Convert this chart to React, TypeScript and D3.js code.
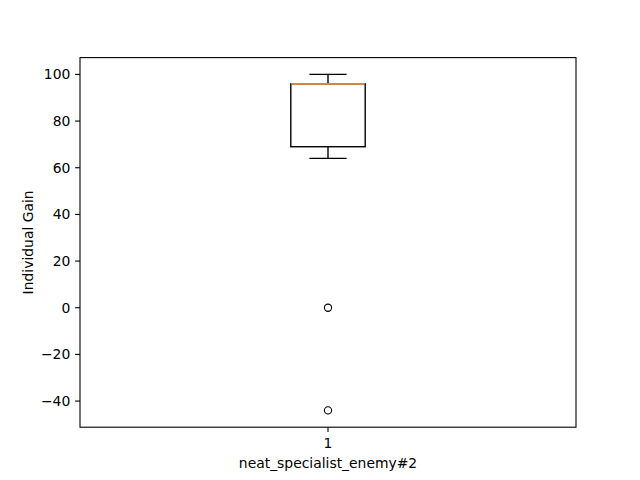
import * as d3 from "d3";

// box statistics
const categories = ["1"];
const whiskerLow = [64];
const q1 = [69];
const median = [96];
const q3 = [96];
const whiskerHigh = [100];
const outliers = [[0, -44]];
const yTicks = [-40, -20, 0, 20, 40, 60, 80, 100];

const xLabel = "neat_specialist_enemy#2";
const yLabel = "Individual Gain";

export default function App() {
  const width = 640;
  const height = 480;
  const margin = { top: 57.6, right: 64, bottom: 52.8, left: 80 };
  const innerW = width - margin.left - margin.right;
  const innerH = height - margin.top - margin.bottom;

  // matplotlib-style 5% padding around the data range
  const allVals = [...whiskerLow, ...whiskerHigh, ...outliers.flat()];
  const lo = d3.min(allVals)!;
  const hi = d3.max(allVals)!;
  const pad = (hi - lo) * 0.05;

  const y = d3.scaleLinear().domain([lo - pad, hi + pad]).range([innerH, 0]);
  const x = d3.scaleLinear().domain([0.5, 1.5]).range([0, innerW]);
  const boxW = 0.15;

  const font = "DejaVu Sans, sans-serif";
  const fmt = (v: number) => (v < 0 ? "\u2212" + Math.abs(v) : String(v));

  return (
    <svg
      width={width}
      height={height}
      style={{ position: "absolute", left: 0, top: 0, background: "#fff" }}
      fontFamily={font}
    >
      <g transform={`translate(${margin.left},${margin.top})`}>
        {/* boxes */}
        {categories.map((c, i) => {
          const pos = i + 1;
          const xl = x(pos - boxW / 2);
          const xr = x(pos + boxW / 2);
          const xc = x(pos);
          const capL = x(pos - boxW / 4);
          const capR = x(pos + boxW / 4);
          return (
            <g key={c} fill="none" stroke="#000" strokeWidth={1.4}>
              <line x1={xc} x2={xc} y1={y(q1[i])} y2={y(whiskerLow[i])} />
              <line x1={xc} x2={xc} y1={y(q3[i])} y2={y(whiskerHigh[i])} />
              <line x1={capL} x2={capR} y1={y(whiskerLow[i])} y2={y(whiskerLow[i])} />
              <line x1={capL} x2={capR} y1={y(whiskerHigh[i])} y2={y(whiskerHigh[i])} />
              <rect x={xl} y={y(q3[i])} width={xr - xl} height={y(q1[i]) - y(q3[i])} />
              <line
                x1={xl}
                x2={xr}
                y1={y(median[i])}
                y2={y(median[i])}
                stroke="#ff7f0e"
              />
              {outliers[i].map((v, k) => (
                <circle key={k} cx={xc} cy={y(v)} r={3.6} strokeWidth={1.1} />
              ))}
            </g>
          );
        })}

        {/* frame */}
        <rect
          x={0}
          y={0}
          width={innerW}
          height={innerH}
          fill="none"
          stroke="#000"
          strokeWidth={1.1}
        />

        {/* y axis */}
        {yTicks.map((t) => (
          <g key={t} transform={`translate(0,${y(t)})`}>
            <line x1={-4.9} x2={0} stroke="#000" strokeWidth={1.1} />
            <text
              x={-9.7}
              dy="0.35em"
              textAnchor="end"
              fontSize={13.9}
              fill="#000"
            >
              {fmt(t)}
            </text>
          </g>
        ))}

        {/* x axis */}
        {categories.map((c, i) => (
          <g key={c} transform={`translate(${x(i + 1)},${innerH})`}>
            <line y1={0} y2={4.9} stroke="#000" strokeWidth={1.1} />
            <text y={9.7} dy="0.78em" textAnchor="middle" fontSize={13.9} fill="#000">
              {c}
            </text>
          </g>
        ))}

        <text
          x={innerW / 2}
          y={innerH + 41}
          textAnchor="middle"
          fontSize={13.9}
          fill="#000"
        >
          {xLabel}
        </text>
        <text
          transform={`translate(${-47},${innerH / 2}) rotate(-90)`}
          textAnchor="middle"
          fontSize={13.9}
          fill="#000"
        >
          {yLabel}
        </text>
      </g>
    </svg>
  );
}
